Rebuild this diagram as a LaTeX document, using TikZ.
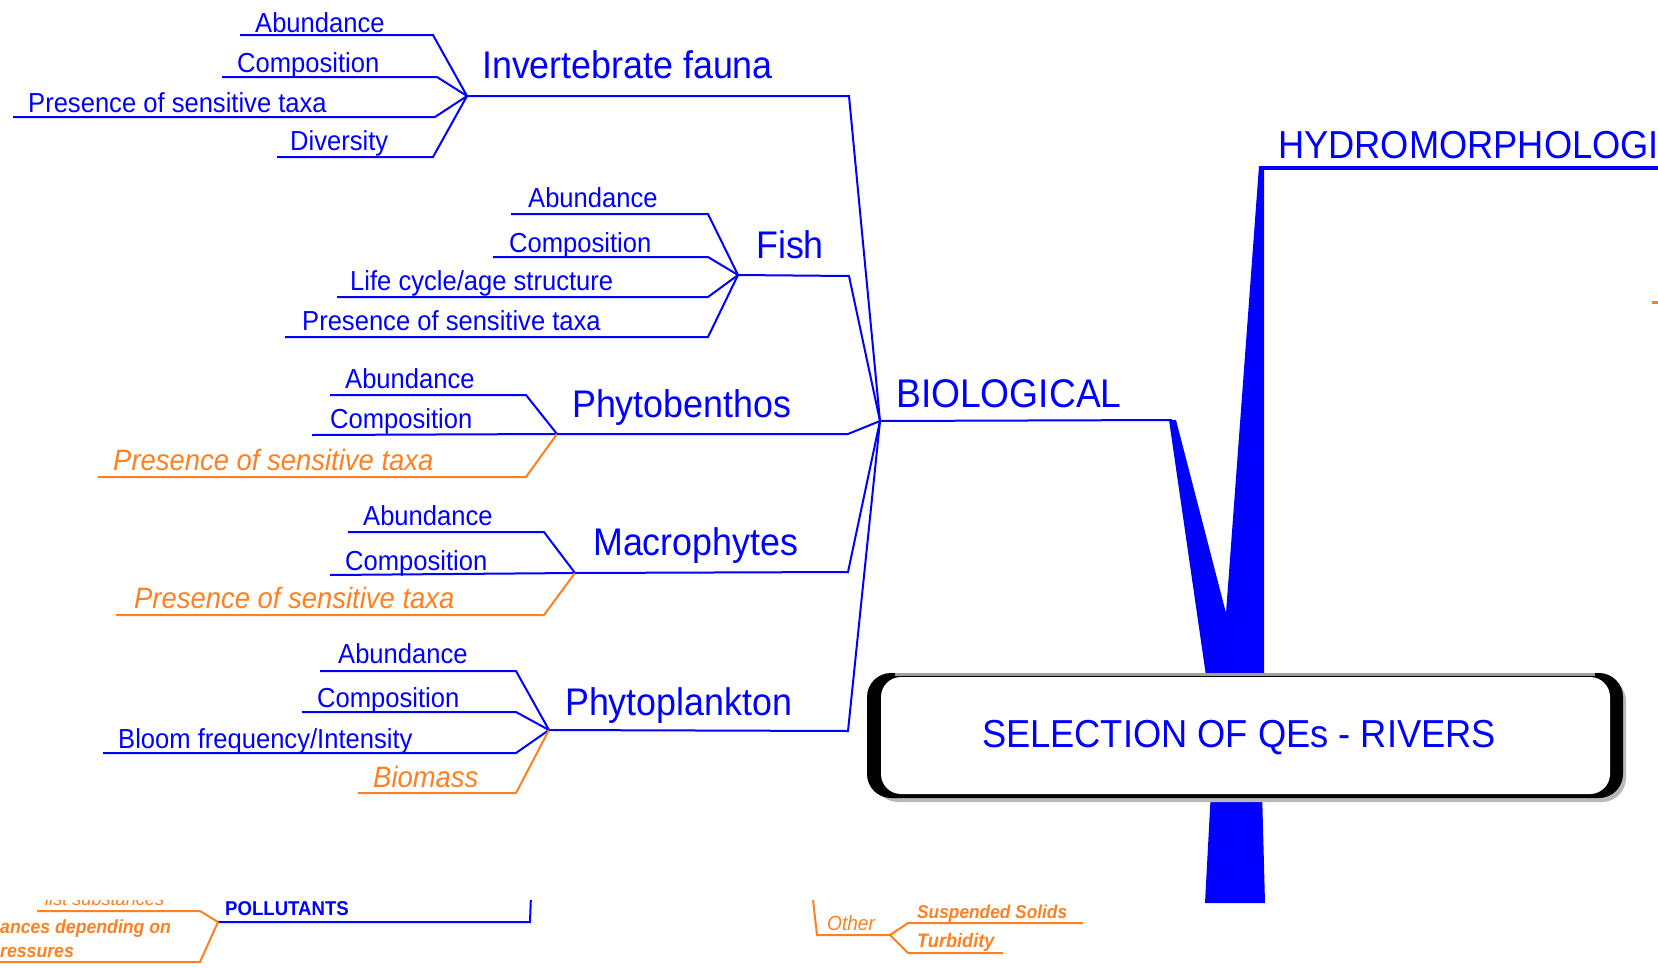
\documentclass[tikz,border=0pt]{standalone}
\usepackage{fontspec}
\setmainfont{Liberation Sans}[FakeStretch=0.93]
\definecolor{myorange}{RGB}{255,128,32}
\definecolor{myblue}{RGB}{0,0,255}
\begin{document}
\begin{tikzpicture}[x=1pt,y=-1pt,
 leaf/.style={anchor=base west,inner sep=0pt,text=myblue,font=\fontsize{27.5}{30}\selectfont},
 oleaf/.style={anchor=base west,inner sep=0pt,text=myorange,font=\fontsize{29.5}{32}\selectfont\itshape},
 grp/.style={anchor=base west,inner sep=0pt,text=myblue,font=\fontsize{38.5}{42}\selectfont},
 small/.style={anchor=base west,inner sep=0pt,text=myorange,font=\fontsize{19.5}{22}\selectfont\itshape},
 bl/.style={draw=myblue,line width=2pt},
 ol/.style={draw=myorange,line width=2pt},
]
\useasboundingbox (0,0) rectangle (1658,967);

% ---------- junction coordinates
\coordinate (bj) at (880,421);
\coordinate (ij) at (467,96);
\coordinate (fj) at (738,275);
\coordinate (pj) at (557,434);
\coordinate (mj) at (575,573);
\coordinate (qj) at (549,730);

% ---------- Invertebrate fauna
\node[leaf] (ia) at (255,32) {Abundance};
\node[leaf] (ic) at (237,72) {Composition};
\node[leaf] (ip) at (28,112) {Presence of sensitive taxa};
\node[leaf] (id) at (290,150) {Diversity};
\node[grp] (inv) at (482,78) {Invertebrate fauna};
\coordinate (ia1) at (240,35); \coordinate (ia2) at (433,35);
\coordinate (ic1) at (222,77); \coordinate (ic2) at (437,77);
\coordinate (ip1) at (13,117); \coordinate (ip2) at (435,117);
\coordinate (id1) at (277,157); \coordinate (id2) at (433,157);
\coordinate (inve) at (849,96);
\draw[bl] (ia1) -- (ia2) -- (ij);
\draw[bl] (ic1) -- (ic2) -- (ij);
\draw[bl] (ip1) -- (ip2) -- (ij);
\draw[bl] (id1) -- (id2) -- (ij);
\draw[bl] (ij) -- (inve) -- (bj);

% ---------- Fish
\node[leaf] (fa) at (528,207) {Abundance};
\node[leaf] (fc) at (509,252) {Composition};
\node[leaf] (fl) at (350,290) {Life cycle/age structure};
\node[leaf] (fp) at (302,330) {Presence of sensitive taxa};
\node[grp] (fish) at (756,258) {Fish};
\coordinate (fa1) at (511,214); \coordinate (fa2) at (708,214);
\coordinate (fc1) at (493,257); \coordinate (fc2) at (708,257);
\coordinate (fl1) at (337,297); \coordinate (fl2) at (708,297);
\coordinate (fp1) at (285,337); \coordinate (fp2) at (708,337);
\coordinate (fishe) at (849,276);
\draw[bl] (fa1) -- (fa2) -- (fj);
\draw[bl] (fc1) -- (fc2) -- (fj);
\draw[bl] (fl1) -- (fl2) -- (fj);
\draw[bl] (fp1) -- (fp2) -- (fj);
\draw[bl] (fj) -- (fishe) -- (bj);

% ---------- Phytobenthos
\node[leaf] (pa) at (345,388) {Abundance};
\node[leaf] (pc) at (330,428) {Composition};
\node[oleaf] (pp) at (113,470) {Presence of sensitive taxa};
\node[grp] (pb) at (572,417) {Phytobenthos};
\coordinate (pa1) at (330,395); \coordinate (pa2) at (526,395);
\coordinate (pc1) at (312,435);
\coordinate (pp1) at (98,477); \coordinate (pp2) at (526,477);
\coordinate (pbe) at (848,434);
\draw[bl] (pa1) -- (pa2) -- (pj);
\draw[bl] (pc1) -- (pj);
\draw[ol] (pp1) -- (pp2) -- (pj);
\draw[bl] (pj) -- (pbe) -- (bj);

% ---------- Macrophytes
\node[leaf] (ma) at (363,525) {Abundance};
\node[leaf] (mc) at (345,570) {Composition};
\node[oleaf] (mp) at (134,608) {Presence of sensitive taxa};
\node[grp] (mac) at (593,555) {Macrophytes};
\coordinate (ma1) at (348,532); \coordinate (ma2) at (544,532);
\coordinate (mc1) at (330,575);
\coordinate (mp1) at (116,615); \coordinate (mp2) at (544,615);
\coordinate (mace) at (848,572);
\draw[bl] (ma1) -- (ma2) -- (mj);
\draw[bl] (mc1) -- (mj);
\draw[ol] (mp1) -- (mp2) -- (mj);
\draw[bl] (mj) -- (mace) -- (bj);

% ---------- Phytoplankton
\node[leaf] (qa) at (338,663) {Abundance};
\node[leaf] (qc) at (317,707) {Composition};
\node[leaf] (qb) at (118,748) {Bloom frequency/Intensity};
\node[oleaf] (qm) at (373,787) {Biomass};
\node[grp] (pl) at (565,715) {Phytoplankton};
\coordinate (qa1) at (320,671); \coordinate (qa2) at (516,671);
\coordinate (qc1) at (302,712); \coordinate (qc2) at (516,712);
\coordinate (qb1) at (103,753); \coordinate (qb2) at (516,753);
\coordinate (qm1) at (358,793); \coordinate (qm2) at (516,793);
\coordinate (ple) at (848,731);
\draw[bl] (qa1) -- (qa2) -- (qj);
\draw[bl] (qc1) -- (qc2) -- (qj);
\draw[bl] (qb1) -- (qb2) -- (qj);
\draw[ol] (qm1) -- (qm2) -- (qj);
\draw[bl] (qj) -- (ple) -- (bj);

% ---------- BIOLOGICAL and HYDROMORPHOLOGICAL
\node[grp,font=\fontsize{40}{42}\selectfont] (bio) at (896,407) {BIOLOGICAL};
\coordinate (bioe) at (1172,420);
\draw[bl] (bj) -- (bioe);
\node[grp,font=\fontsize{39}{42}\selectfont] (hyd) at (1278,158) {HYDROMORPHOLOGI};
\coordinate (hyd1) at (1262,168); \coordinate (hyd2) at (1660,168);
\draw[draw=myblue,line width=4pt] (hyd1) -- (hyd2);
\fill[myblue] (1169,420) -- (1176,420) -- (1226,613) -- (1259,166) -- (1264,166)
  -- (1264,676) -- (1206,676) -- cycle;
\fill[myblue] (1211,790) -- (1262,790) -- (1265,903) -- (1205,903) -- cycle;
\coordinate (od1) at (1652,302); \coordinate (od2) at (1660,302);
\draw[myorange,line width=3pt] (od1) -- (od2);

% ---------- central box
\fill[gray!55,rounded corners=24pt] (874,677) rectangle (1626,802);
\fill[black,rounded corners=24pt] (867,673) rectangle (1623,798);
\fill[white,rounded corners=20pt] (881,677) rectangle (1610,794);
\draw[gray!75,line width=3pt] (895,674.5) -- (1595,674.5);
\node[anchor=base,inner sep=0pt,text=myblue,font=\fontsize{39}{42}\selectfont] (sel) at (1239,747) {SELECTION OF QEs - RIVERS};

% ---------- bottom strip (cut at its top)
\begin{scope}
\clip (0,900) rectangle (1658,967);
\node[small] (lst) at (45,905) {list substances};
\node[anchor=base west,inner sep=0pt,text=myblue,font=\fontsize{20}{22}\selectfont\bfseries] (pol) at (225,915) {POLLUTANTS};
\coordinate (pj2) at (218,922);
\coordinate (pol2) at (530,922); \coordinate (pol3) at (531,895);
\draw[bl] (pj2) -- (pol2) -- (pol3);
\coordinate (o1) at (37,911); \coordinate (o2) at (200,911);
\coordinate (o3) at (200,962); \coordinate (o4) at (-2,962);
\draw[ol] (o1) -- (o2) -- (pj2);
\draw[ol] (pj2) -- (o3) -- (o4);
\node[small,font=\fontsize{19}{22}\selectfont\itshape\bfseries] (sub) at (0,933) {ances depending on};
\node[small,font=\fontsize{19}{22}\selectfont\itshape\bfseries] (prs) at (0,957) {ressures};
% Other branch
\coordinate (ot1) at (813,900); \coordinate (ot2) at (817,935);
\coordinate (otj) at (890,935);
\coordinate (ss1) at (908,923); \coordinate (ss2) at (1083,923);
\coordinate (tb1) at (908,953); \coordinate (tb2) at (1003,953);
\draw[ol] (ot1) -- (ot2) -- (otj);
\draw[ol] (otj) -- (ss1) -- (ss2);
\draw[ol] (otj) -- (tb1) -- (tb2);
\node[small,font=\fontsize{20.5}{22}\selectfont\itshape] (oth) at (827,930) {Other};
\node[small,font=\fontsize{18.6}{22}\selectfont\itshape\bfseries] (ss) at (917,918) {Suspended Solids};
\node[small,font=\fontsize{19.5}{22}\selectfont\itshape\bfseries] (tb) at (917,947) {Turbidity};
\end{scope}
\end{tikzpicture}
\end{document}
